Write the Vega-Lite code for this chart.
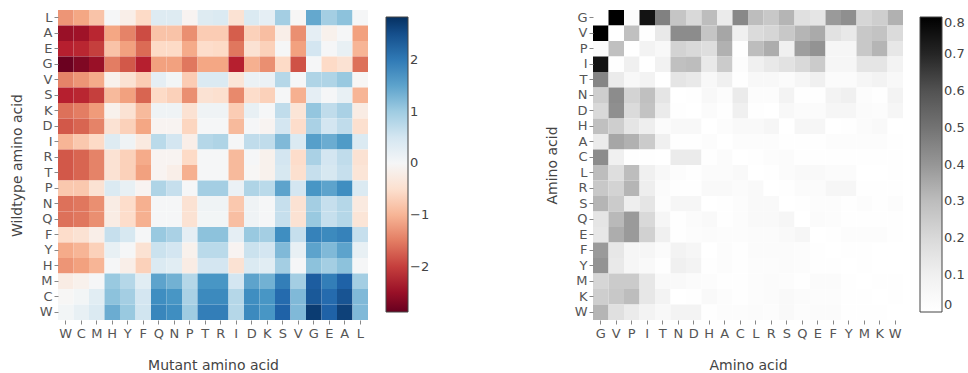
{
  "$schema": "https://vega.github.io/schema/vega-lite/v6.json",
  "padding": {"left": 10, "top": 10, "right": 5, "bottom": 5},
  "bounds": "flush",
  "spacing": 225,
  "config": {
    "view": {"stroke": null},
    "font": "DejaVu Sans",
    "axis": {"domain": false, "grid": false, "labelFont": "DejaVu Sans", "labelFontSize": 13, "labelColor": "#555", "tickColor": "#888", "tickSize": 4, "labelPadding": 2, "titleFont": "DejaVu Sans", "titleFontSize": 14, "titleFontWeight": "normal", "titleColor": "#444"},
    "axisX": {"labelAngle": 0, "labelPadding": 3, "titlePadding": 18},
    "axisY": {"titlePadding": 15},
    "legend": {"labelFont": "DejaVu Sans", "labelFontSize": 13, "labelColor": "#444", "gradientLength": 295, "gradientThickness": 22, "gradientStrokeColor": "#444", "gradientStrokeWidth": 1, "labelOffset": 4, "orient": "none"}
  },
  "datasets": {
    "mut": [
{"r":"L","c":"W","v":-1.3},{"r":"L","c":"C","v":-1.15},{"r":"L","c":"M","v":-0.85},{"r":"L","c":"H","v":0.0},{"r":"L","c":"Y","v":-0.2},{"r":"L","c":"F","v":-0.6},{"r":"L","c":"Q","v":0.35},{"r":"L","c":"N","v":0.35},{"r":"L","c":"P","v":-0.1},{"r":"L","c":"T","v":0.35},{"r":"L","c":"R","v":0.4},{"r":"L","c":"I","v":-0.45},{"r":"L","c":"D","v":0.4},{"r":"L","c":"K","v":0.25},{"r":"L","c":"S","v":0.95},{"r":"L","c":"V","v":-0.05},{"r":"L","c":"G","v":1.45},{"r":"L","c":"E","v":0.95},{"r":"L","c":"A","v":1.15},{"r":"L","c":"L","v":0.0},
{"r":"A","c":"W","v":-2.5},{"r":"A","c":"C","v":-2.45},{"r":"A","c":"M","v":-2.2},{"r":"A","c":"H","v":-1.15},{"r":"A","c":"Y","v":-1.45},{"r":"A","c":"F","v":-1.9},{"r":"A","c":"Q","v":-0.85},{"r":"A","c":"N","v":-0.85},{"r":"A","c":"P","v":-1.35},{"r":"A","c":"T","v":-0.75},{"r":"A","c":"R","v":-0.75},{"r":"A","c":"I","v":-1.75},{"r":"A","c":"D","v":-0.7},{"r":"A","c":"K","v":-0.9},{"r":"A","c":"S","v":-0.2},{"r":"A","c":"V","v":-1.35},{"r":"A","c":"G","v":0.25},{"r":"A","c":"E","v":-0.15},{"r":"A","c":"A","v":0.0},{"r":"A","c":"L","v":-1.2},
{"r":"E","c":"W","v":-2.25},{"r":"E","c":"C","v":-2.2},{"r":"E","c":"M","v":-2.0},{"r":"E","c":"H","v":-0.85},{"r":"E","c":"Y","v":-1.2},{"r":"E","c":"F","v":-1.65},{"r":"E","c":"Q","v":-0.6},{"r":"E","c":"N","v":-0.6},{"r":"E","c":"P","v":-1.1},{"r":"E","c":"T","v":-0.55},{"r":"E","c":"R","v":-0.6},{"r":"E","c":"I","v":-1.55},{"r":"E","c":"D","v":-0.45},{"r":"E","c":"K","v":-0.7},{"r":"E","c":"S","v":0.0},{"r":"E","c":"V","v":-1.2},{"r":"E","c":"G","v":0.5},{"r":"E","c":"E","v":0.0},{"r":"E","c":"A","v":0.2},{"r":"E","c":"L","v":-1.0},
{"r":"G","c":"W","v":-2.85},{"r":"G","c":"C","v":-2.7},{"r":"G","c":"M","v":-2.5},{"r":"G","c":"H","v":-1.5},{"r":"G","c":"Y","v":-1.8},{"r":"G","c":"F","v":-2.25},{"r":"G","c":"Q","v":-1.2},{"r":"G","c":"N","v":-1.2},{"r":"G","c":"P","v":-1.55},{"r":"G","c":"T","v":-1.15},{"r":"G","c":"R","v":-1.15},{"r":"G","c":"I","v":-2.25},{"r":"G","c":"D","v":-1.05},{"r":"G","c":"K","v":-1.35},{"r":"G","c":"S","v":-0.6},{"r":"G","c":"V","v":-1.85},{"r":"G","c":"G","v":0.0},{"r":"G","c":"E","v":-0.6},{"r":"G","c":"A","v":-0.45},{"r":"G","c":"L","v":-1.6},
{"r":"V","c":"W","v":-1.45},{"r":"V","c":"C","v":-1.3},{"r":"V","c":"M","v":-1.1},{"r":"V","c":"H","v":-0.15},{"r":"V","c":"Y","v":-0.45},{"r":"V","c":"F","v":-0.75},{"r":"V","c":"Q","v":0.25},{"r":"V","c":"N","v":0.05},{"r":"V","c":"P","v":-0.75},{"r":"V","c":"T","v":0.4},{"r":"V","c":"R","v":0.4},{"r":"V","c":"I","v":-0.4},{"r":"V","c":"D","v":0.15},{"r":"V","c":"K","v":0.15},{"r":"V","c":"S","v":0.8},{"r":"V","c":"V","v":0.0},{"r":"V","c":"G","v":0.85},{"r":"V","c":"E","v":0.85},{"r":"V","c":"A","v":1.05},{"r":"V","c":"L","v":-0.05},
{"r":"S","c":"W","v":-2.25},{"r":"S","c":"C","v":-2.2},{"r":"S","c":"M","v":-2.0},{"r":"S","c":"H","v":-0.95},{"r":"S","c":"Y","v":-1.2},{"r":"S","c":"F","v":-1.7},{"r":"S","c":"Q","v":-0.6},{"r":"S","c":"N","v":-0.7},{"r":"S","c":"P","v":-1.35},{"r":"S","c":"T","v":-0.45},{"r":"S","c":"R","v":-0.5},{"r":"S","c":"I","v":-1.4},{"r":"S","c":"D","v":-0.55},{"r":"S","c":"K","v":-0.7},{"r":"S","c":"S","v":0.0},{"r":"S","c":"V","v":-1.05},{"r":"S","c":"G","v":0.25},{"r":"S","c":"E","v":0.0},{"r":"S","c":"A","v":0.2},{"r":"S","c":"L","v":-1.0},
{"r":"K","c":"W","v":-1.6},{"r":"K","c":"C","v":-1.5},{"r":"K","c":"M","v":-1.25},{"r":"K","c":"H","v":-0.15},{"r":"K","c":"Y","v":-0.45},{"r":"K","c":"F","v":-0.95},{"r":"K","c":"Q","v":0.1},{"r":"K","c":"N","v":0.1},{"r":"K","c":"P","v":-0.45},{"r":"K","c":"T","v":0.1},{"r":"K","c":"R","v":0.1},{"r":"K","c":"I","v":-0.75},{"r":"K","c":"D","v":0.2},{"r":"K","c":"K","v":0.0},{"r":"K","c":"S","v":0.7},{"r":"K","c":"V","v":-0.4},{"r":"K","c":"G","v":1.1},{"r":"K","c":"E","v":0.7},{"r":"K","c":"A","v":0.9},{"r":"K","c":"L","v":-0.25},
{"r":"D","c":"W","v":-1.8},{"r":"D","c":"C","v":-1.7},{"r":"D","c":"M","v":-1.45},{"r":"D","c":"H","v":-0.45},{"r":"D","c":"Y","v":-0.7},{"r":"D","c":"F","v":-1.15},{"r":"D","c":"Q","v":-0.1},{"r":"D","c":"N","v":-0.1},{"r":"D","c":"P","v":-0.65},{"r":"D","c":"T","v":0.0},{"r":"D","c":"R","v":0.0},{"r":"D","c":"I","v":-0.95},{"r":"D","c":"D","v":0.0},{"r":"D","c":"K","v":-0.1},{"r":"D","c":"S","v":0.5},{"r":"D","c":"V","v":-0.55},{"r":"D","c":"G","v":0.9},{"r":"D","c":"E","v":0.5},{"r":"D","c":"A","v":0.7},{"r":"D","c":"L","v":-0.5},
{"r":"I","c":"W","v":-1.0},{"r":"I","c":"C","v":-0.8},{"r":"I","c":"M","v":-0.6},{"r":"I","c":"H","v":0.35},{"r":"I","c":"Y","v":0.1},{"r":"I","c":"F","v":-0.3},{"r":"I","c":"Q","v":0.75},{"r":"I","c":"N","v":0.5},{"r":"I","c":"P","v":-0.2},{"r":"I","c":"T","v":0.8},{"r":"I","c":"R","v":0.85},{"r":"I","c":"I","v":0.0},{"r":"I","c":"D","v":0.7},{"r":"I","c":"K","v":0.7},{"r":"I","c":"S","v":1.25},{"r":"I","c":"V","v":0.4},{"r":"I","c":"G","v":1.55},{"r":"I","c":"E","v":1.4},{"r":"I","c":"A","v":1.6},{"r":"I","c":"L","v":0.4},
{"r":"R","c":"W","v":-1.8},{"r":"R","c":"C","v":-1.7},{"r":"R","c":"M","v":-1.45},{"r":"R","c":"H","v":-0.45},{"r":"R","c":"Y","v":-0.7},{"r":"R","c":"F","v":-1.1},{"r":"R","c":"Q","v":-0.1},{"r":"R","c":"N","v":-0.1},{"r":"R","c":"P","v":-0.6},{"r":"R","c":"T","v":0.0},{"r":"R","c":"R","v":0.0},{"r":"R","c":"I","v":-0.95},{"r":"R","c":"D","v":0.0},{"r":"R","c":"K","v":-0.15},{"r":"R","c":"S","v":0.5},{"r":"R","c":"V","v":-0.55},{"r":"R","c":"G","v":0.9},{"r":"R","c":"E","v":0.5},{"r":"R","c":"A","v":0.7},{"r":"R","c":"L","v":-0.45},
{"r":"T","c":"W","v":-1.8},{"r":"T","c":"C","v":-1.7},{"r":"T","c":"M","v":-1.45},{"r":"T","c":"H","v":-0.45},{"r":"T","c":"Y","v":-0.7},{"r":"T","c":"F","v":-1.2},{"r":"T","c":"Q","v":-0.1},{"r":"T","c":"N","v":-0.2},{"r":"T","c":"P","v":-1.05},{"r":"T","c":"T","v":0.0},{"r":"T","c":"R","v":0.0},{"r":"T","c":"I","v":-0.95},{"r":"T","c":"D","v":-0.05},{"r":"T","c":"K","v":-0.15},{"r":"T","c":"S","v":0.45},{"r":"T","c":"V","v":-0.5},{"r":"T","c":"G","v":0.65},{"r":"T","c":"E","v":0.45},{"r":"T","c":"A","v":0.65},{"r":"T","c":"L","v":-0.4},
{"r":"P","c":"W","v":-0.8},{"r":"P","c":"C","v":-0.8},{"r":"P","c":"M","v":-0.45},{"r":"P","c":"H","v":0.4},{"r":"P","c":"Y","v":0.2},{"r":"P","c":"F","v":-0.1},{"r":"P","c":"Q","v":0.85},{"r":"P","c":"N","v":0.65},{"r":"P","c":"P","v":0.0},{"r":"P","c":"T","v":0.95},{"r":"P","c":"R","v":0.95},{"r":"P","c":"I","v":0.15},{"r":"P","c":"D","v":0.85},{"r":"P","c":"K","v":0.75},{"r":"P","c":"S","v":1.5},{"r":"P","c":"V","v":0.5},{"r":"P","c":"G","v":1.65},{"r":"P","c":"E","v":1.5},{"r":"P","c":"A","v":1.75},{"r":"P","c":"L","v":0.4},
{"r":"N","c":"W","v":-1.6},{"r":"N","c":"C","v":-1.55},{"r":"N","c":"M","v":-1.35},{"r":"N","c":"H","v":-0.25},{"r":"N","c":"Y","v":-0.55},{"r":"N","c":"F","v":-1.05},{"r":"N","c":"Q","v":0.0},{"r":"N","c":"N","v":0.0},{"r":"N","c":"P","v":-0.45},{"r":"N","c":"T","v":0.1},{"r":"N","c":"R","v":0.1},{"r":"N","c":"I","v":-0.8},{"r":"N","c":"D","v":0.1},{"r":"N","c":"K","v":0.0},{"r":"N","c":"S","v":0.65},{"r":"N","c":"V","v":-0.45},{"r":"N","c":"G","v":0.95},{"r":"N","c":"E","v":0.65},{"r":"N","c":"A","v":0.8},{"r":"N","c":"L","v":-0.3},
{"r":"Q","c":"W","v":-1.6},{"r":"Q","c":"C","v":-1.55},{"r":"Q","c":"M","v":-1.35},{"r":"Q","c":"H","v":-0.25},{"r":"Q","c":"Y","v":-0.55},{"r":"Q","c":"F","v":-1.05},{"r":"Q","c":"Q","v":0.0},{"r":"Q","c":"N","v":0.0},{"r":"Q","c":"P","v":-0.45},{"r":"Q","c":"T","v":0.05},{"r":"Q","c":"R","v":0.05},{"r":"Q","c":"I","v":-0.9},{"r":"Q","c":"D","v":0.1},{"r":"Q","c":"K","v":0.0},{"r":"Q","c":"S","v":0.65},{"r":"Q","c":"V","v":-0.45},{"r":"Q","c":"G","v":1.05},{"r":"Q","c":"E","v":0.65},{"r":"Q","c":"A","v":0.8},{"r":"Q","c":"L","v":-0.4},
{"r":"F","c":"W","v":-0.55},{"r":"F","c":"C","v":-0.45},{"r":"F","c":"M","v":-0.2},{"r":"F","c":"H","v":0.65},{"r":"F","c":"Y","v":0.45},{"r":"F","c":"F","v":0.0},{"r":"F","c":"Q","v":1.05},{"r":"F","c":"N","v":0.9},{"r":"F","c":"P","v":0.25},{"r":"F","c":"T","v":1.15},{"r":"F","c":"R","v":1.15},{"r":"F","c":"I","v":0.25},{"r":"F","c":"D","v":1.05},{"r":"F","c":"K","v":0.95},{"r":"F","c":"S","v":1.75},{"r":"F","c":"V","v":0.65},{"r":"F","c":"G","v":1.9},{"r":"F","c":"E","v":1.8},{"r":"F","c":"A","v":1.9},{"r":"F","c":"L","v":0.65},
{"r":"Y","c":"W","v":-1.1},{"r":"Y","c":"C","v":-1.0},{"r":"Y","c":"M","v":-0.7},{"r":"Y","c":"H","v":0.2},{"r":"Y","c":"Y","v":0.0},{"r":"Y","c":"F","v":-0.45},{"r":"Y","c":"Q","v":0.6},{"r":"Y","c":"N","v":0.5},{"r":"Y","c":"P","v":-0.15},{"r":"Y","c":"T","v":0.75},{"r":"Y","c":"R","v":0.75},{"r":"Y","c":"I","v":-0.1},{"r":"Y","c":"D","v":0.6},{"r":"Y","c":"K","v":0.5},{"r":"Y","c":"S","v":1.25},{"r":"Y","c":"V","v":0.2},{"r":"Y","c":"G","v":1.5},{"r":"Y","c":"E","v":1.25},{"r":"Y","c":"A","v":1.5},{"r":"Y","c":"L","v":0.2},
{"r":"H","c":"W","v":-1.3},{"r":"H","c":"C","v":-1.2},{"r":"H","c":"M","v":-1.0},{"r":"H","c":"H","v":0.0},{"r":"H","c":"Y","v":-0.2},{"r":"H","c":"F","v":-0.7},{"r":"H","c":"Q","v":0.4},{"r":"H","c":"N","v":0.3},{"r":"H","c":"P","v":-0.25},{"r":"H","c":"T","v":0.5},{"r":"H","c":"R","v":0.5},{"r":"H","c":"I","v":-0.45},{"r":"H","c":"D","v":0.4},{"r":"H","c":"K","v":0.3},{"r":"H","c":"S","v":0.95},{"r":"H","c":"V","v":0.0},{"r":"H","c":"G","v":1.15},{"r":"H","c":"E","v":0.95},{"r":"H","c":"A","v":1.15},{"r":"H","c":"L","v":0.0},
{"r":"M","c":"W","v":-0.25},{"r":"M","c":"C","v":-0.15},{"r":"M","c":"M","v":0.0},{"r":"M","c":"H","v":1.05},{"r":"M","c":"Y","v":0.8},{"r":"M","c":"F","v":0.3},{"r":"M","c":"Q","v":1.5},{"r":"M","c":"N","v":1.35},{"r":"M","c":"P","v":0.8},{"r":"M","c":"T","v":1.65},{"r":"M","c":"R","v":1.65},{"r":"M","c":"I","v":0.5},{"r":"M","c":"D","v":1.5},{"r":"M","c":"K","v":1.35},{"r":"M","c":"S","v":1.95},{"r":"M","c":"V","v":0.95},{"r":"M","c":"G","v":2.35},{"r":"M","c":"E","v":1.95},{"r":"M","c":"A","v":2.3},{"r":"M","c":"L","v":0.95},
{"r":"C","c":"W","v":-0.05},{"r":"C","c":"C","v":0.05},{"r":"C","c":"M","v":0.3},{"r":"C","c":"H","v":1.15},{"r":"C","c":"Y","v":0.95},{"r":"C","c":"F","v":0.5},{"r":"C","c":"Q","v":1.75},{"r":"C","c":"N","v":1.65},{"r":"C","c":"P","v":0.9},{"r":"C","c":"T","v":1.8},{"r":"C","c":"R","v":1.8},{"r":"C","c":"I","v":0.8},{"r":"C","c":"D","v":1.75},{"r":"C","c":"K","v":1.65},{"r":"C","c":"S","v":2.2},{"r":"C","c":"V","v":1.25},{"r":"C","c":"G","v":2.4},{"r":"C","c":"E","v":2.2},{"r":"C","c":"A","v":2.45},{"r":"C","c":"L","v":1.25},
{"r":"W","c":"W","v":0.05},{"r":"W","c":"C","v":0.2},{"r":"W","c":"M","v":0.4},{"r":"W","c":"H","v":1.4},{"r":"W","c":"Y","v":1.05},{"r":"W","c":"F","v":0.55},{"r":"W","c":"Q","v":1.85},{"r":"W","c":"N","v":1.75},{"r":"W","c":"P","v":1.0},{"r":"W","c":"T","v":1.95},{"r":"W","c":"R","v":1.95},{"r":"W","c":"I","v":0.8},{"r":"W","c":"D","v":1.8},{"r":"W","c":"K","v":1.65},{"r":"W","c":"S","v":2.3},{"r":"W","c":"V","v":1.25},{"r":"W","c":"G","v":2.7},{"r":"W","c":"E","v":2.3},{"r":"W","c":"A","v":2.65},{"r":"W","c":"L","v":1.25}
    ],
    "sub": [
{"r":"G","c":"G","v":0},{"r":"G","c":"V","v":0.8},{"r":"G","c":"P","v":0.03},{"r":"G","c":"I","v":0.75},{"r":"G","c":"T","v":0.46},{"r":"G","c":"N","v":0.27},{"r":"G","c":"D","v":0.2},{"r":"G","c":"H","v":0.3},{"r":"G","c":"A","v":0.12},{"r":"G","c":"C","v":0.44},{"r":"G","c":"L","v":0.3},{"r":"G","c":"R","v":0.26},{"r":"G","c":"S","v":0.32},{"r":"G","c":"Q","v":0.17},{"r":"G","c":"E","v":0.15},{"r":"G","c":"F","v":0.39},{"r":"G","c":"Y","v":0.42},{"r":"G","c":"M","v":0.21},{"r":"G","c":"K","v":0.24},{"r":"G","c":"W","v":0.33},
{"r":"V","c":"G","v":0.8},{"r":"V","c":"V","v":0},{"r":"V","c":"P","v":0.29},{"r":"V","c":"I","v":0.01},{"r":"V","c":"T","v":0.13},{"r":"V","c":"N","v":0.43},{"r":"V","c":"D","v":0.43},{"r":"V","c":"H","v":0.27},{"r":"V","c":"A","v":0.36},{"r":"V","c":"C","v":0.1},{"r":"V","c":"L","v":0.19},{"r":"V","c":"R","v":0.21},{"r":"V","c":"S","v":0.26},{"r":"V","c":"Q","v":0.32},{"r":"V","c":"E","v":0.35},{"r":"V","c":"F","v":0.16},{"r":"V","c":"Y","v":0.13},{"r":"V","c":"M","v":0.26},{"r":"V","c":"K","v":0.28},{"r":"V","c":"W","v":0.19},
{"r":"P","c":"G","v":0.03},{"r":"P","c":"V","v":0.29},{"r":"P","c":"P","v":0},{"r":"P","c":"I","v":0.08},{"r":"P","c":"T","v":0.05},{"r":"P","c":"N","v":0.22},{"r":"P","c":"D","v":0.2},{"r":"P","c":"H","v":0.18},{"r":"P","c":"A","v":0.33},{"r":"P","c":"C","v":0.01},{"r":"P","c":"L","v":0.3},{"r":"P","c":"R","v":0.34},{"r":"P","c":"S","v":0.1},{"r":"P","c":"Q","v":0.38},{"r":"P","c":"E","v":0.41},{"r":"P","c":"F","v":0.06},{"r":"P","c":"Y","v":0.06},{"r":"P","c":"M","v":0.26},{"r":"P","c":"K","v":0.32},{"r":"P","c":"W","v":0.14},
{"r":"I","c":"G","v":0.75},{"r":"I","c":"V","v":0.01},{"r":"I","c":"P","v":0.1},{"r":"I","c":"I","v":0},{"r":"I","c":"T","v":0.09},{"r":"I","c":"N","v":0.29},{"r":"I","c":"D","v":0.3},{"r":"I","c":"H","v":0.13},{"r":"I","c":"A","v":0.25},{"r":"I","c":"C","v":0.02},{"r":"I","c":"L","v":0.1},{"r":"I","c":"R","v":0.13},{"r":"I","c":"S","v":0.16},{"r":"I","c":"Q","v":0.2},{"r":"I","c":"E","v":0.25},{"r":"I","c":"F","v":0.06},{"r":"I","c":"Y","v":0.06},{"r":"I","c":"M","v":0.15},{"r":"I","c":"K","v":0.15},{"r":"I","c":"W","v":0.08},
{"r":"T","c":"G","v":0.45},{"r":"T","c":"V","v":0.12},{"r":"T","c":"P","v":0.05},{"r":"T","c":"I","v":0.08},{"r":"T","c":"T","v":0},{"r":"T","c":"N","v":0.15},{"r":"T","c":"D","v":0.13},{"r":"T","c":"H","v":0.05},{"r":"T","c":"A","v":0.1},{"r":"T","c":"C","v":0.01},{"r":"T","c":"L","v":0.05},{"r":"T","c":"R","v":0.05},{"r":"T","c":"S","v":0.03},{"r":"T","c":"Q","v":0.06},{"r":"T","c":"E","v":0.1},{"r":"T","c":"F","v":0.03},{"r":"T","c":"Y","v":0.03},{"r":"T","c":"M","v":0.06},{"r":"T","c":"K","v":0.08},{"r":"T","c":"W","v":0.05},
{"r":"N","c":"G","v":0.24},{"r":"N","c":"V","v":0.43},{"r":"N","c":"P","v":0.22},{"r":"N","c":"I","v":0.29},{"r":"N","c":"T","v":0.15},{"r":"N","c":"N","v":0},{"r":"N","c":"D","v":0.01},{"r":"N","c":"H","v":0.05},{"r":"N","c":"A","v":0.02},{"r":"N","c":"C","v":0.12},{"r":"N","c":"L","v":0.02},{"r":"N","c":"R","v":0.02},{"r":"N","c":"S","v":0.08},{"r":"N","c":"Q","v":0.01},{"r":"N","c":"E","v":0.01},{"r":"N","c":"F","v":0.08},{"r":"N","c":"Y","v":0.1},{"r":"N","c":"M","v":0.02},{"r":"N","c":"K","v":0.01},{"r":"N","c":"W","v":0.08},
{"r":"D","c":"G","v":0.2},{"r":"D","c":"V","v":0.42},{"r":"D","c":"P","v":0.19},{"r":"D","c":"I","v":0.28},{"r":"D","c":"T","v":0.12},{"r":"D","c":"N","v":0.01},{"r":"D","c":"D","v":0},{"r":"D","c":"H","v":0.03},{"r":"D","c":"A","v":0.01},{"r":"D","c":"C","v":0.1},{"r":"D","c":"L","v":0.01},{"r":"D","c":"R","v":0.0},{"r":"D","c":"S","v":0.05},{"r":"D","c":"Q","v":0.03},{"r":"D","c":"E","v":0.03},{"r":"D","c":"F","v":0.06},{"r":"D","c":"Y","v":0.06},{"r":"D","c":"M","v":0.03},{"r":"D","c":"K","v":0.02},{"r":"D","c":"W","v":0.06},
{"r":"H","c":"G","v":0.29},{"r":"H","c":"V","v":0.24},{"r":"H","c":"P","v":0.15},{"r":"H","c":"I","v":0.11},{"r":"H","c":"T","v":0.03},{"r":"H","c":"N","v":0.05},{"r":"H","c":"D","v":0.05},{"r":"H","c":"H","v":0},{"r":"H","c":"A","v":0.02},{"r":"H","c":"C","v":0.04},{"r":"H","c":"L","v":0.04},{"r":"H","c":"R","v":0.06},{"r":"H","c":"S","v":0.0},{"r":"H","c":"Q","v":0.06},{"r":"H","c":"E","v":0.06},{"r":"H","c":"F","v":0.0},{"r":"H","c":"Y","v":0.01},{"r":"H","c":"M","v":0.03},{"r":"H","c":"K","v":0.04},{"r":"H","c":"W","v":0.0},
{"r":"A","c":"G","v":0.12},{"r":"A","c":"V","v":0.36},{"r":"A","c":"P","v":0.33},{"r":"A","c":"I","v":0.25},{"r":"A","c":"T","v":0.1},{"r":"A","c":"N","v":0.01},{"r":"A","c":"D","v":0.01},{"r":"A","c":"H","v":0.02},{"r":"A","c":"A","v":0},{"r":"A","c":"C","v":0.02},{"r":"A","c":"L","v":0.02},{"r":"A","c":"R","v":0.02},{"r":"A","c":"S","v":0.01},{"r":"A","c":"Q","v":0.01},{"r":"A","c":"E","v":0.01},{"r":"A","c":"F","v":0.02},{"r":"A","c":"Y","v":0.02},{"r":"A","c":"M","v":0.02},{"r":"A","c":"K","v":0.02},{"r":"A","c":"W","v":0.01},
{"r":"C","c":"G","v":0.43},{"r":"C","c":"V","v":0.1},{"r":"C","c":"P","v":0.01},{"r":"C","c":"I","v":0.01},{"r":"C","c":"T","v":0.0},{"r":"C","c":"N","v":0.12},{"r":"C","c":"D","v":0.12},{"r":"C","c":"H","v":0.01},{"r":"C","c":"A","v":0.03},{"r":"C","c":"C","v":0},{"r":"C","c":"L","v":0.01},{"r":"C","c":"R","v":0.02},{"r":"C","c":"S","v":0.03},{"r":"C","c":"Q","v":0.01},{"r":"C","c":"E","v":0.01},{"r":"C","c":"F","v":0.01},{"r":"C","c":"Y","v":0.01},{"r":"C","c":"M","v":0.01},{"r":"C","c":"K","v":0.01},{"r":"C","c":"W","v":0.01},
{"r":"L","c":"G","v":0.3},{"r":"L","c":"V","v":0.18},{"r":"L","c":"P","v":0.3},{"r":"L","c":"I","v":0.1},{"r":"L","c":"T","v":0.05},{"r":"L","c":"N","v":0.02},{"r":"L","c":"D","v":0.01},{"r":"L","c":"H","v":0.03},{"r":"L","c":"A","v":0.03},{"r":"L","c":"C","v":0.04},{"r":"L","c":"L","v":0},{"r":"L","c":"R","v":0.01},{"r":"L","c":"S","v":0.03},{"r":"L","c":"Q","v":0.04},{"r":"L","c":"E","v":0.04},{"r":"L","c":"F","v":0.03},{"r":"L","c":"Y","v":0.03},{"r":"L","c":"M","v":0.0},{"r":"L","c":"K","v":0.0},{"r":"L","c":"W","v":0.01},
{"r":"R","c":"G","v":0.26},{"r":"R","c":"V","v":0.22},{"r":"R","c":"P","v":0.32},{"r":"R","c":"I","v":0.11},{"r":"R","c":"T","v":0.03},{"r":"R","c":"N","v":0.01},{"r":"R","c":"D","v":0.01},{"r":"R","c":"H","v":0.04},{"r":"R","c":"A","v":0.04},{"r":"R","c":"C","v":0.03},{"r":"R","c":"L","v":0.04},{"r":"R","c":"R","v":0},{"r":"R","c":"S","v":0.01},{"r":"R","c":"Q","v":0.03},{"r":"R","c":"E","v":0.03},{"r":"R","c":"F","v":0.06},{"r":"R","c":"Y","v":0.06},{"r":"R","c":"M","v":0.01},{"r":"R","c":"K","v":0.01},{"r":"R","c":"W","v":0.01},
{"r":"S","c":"G","v":0.32},{"r":"S","c":"V","v":0.25},{"r":"S","c":"P","v":0.11},{"r":"S","c":"I","v":0.15},{"r":"S","c":"T","v":0.02},{"r":"S","c":"N","v":0.06},{"r":"S","c":"D","v":0.06},{"r":"S","c":"H","v":0.0},{"r":"S","c":"A","v":0.01},{"r":"S","c":"C","v":0.02},{"r":"S","c":"L","v":0.04},{"r":"S","c":"R","v":0.04},{"r":"S","c":"S","v":0},{"r":"S","c":"Q","v":0.01},{"r":"S","c":"E","v":0.02},{"r":"S","c":"F","v":0.02},{"r":"S","c":"Y","v":0.01},{"r":"S","c":"M","v":0.02},{"r":"S","c":"K","v":0.01},{"r":"S","c":"W","v":0.02},
{"r":"Q","c":"G","v":0.15},{"r":"Q","c":"V","v":0.31},{"r":"Q","c":"P","v":0.39},{"r":"Q","c":"I","v":0.2},{"r":"Q","c":"T","v":0.06},{"r":"Q","c":"N","v":0.01},{"r":"Q","c":"D","v":0.03},{"r":"Q","c":"H","v":0.04},{"r":"Q","c":"A","v":0.01},{"r":"Q","c":"C","v":0.02},{"r":"Q","c":"L","v":0.04},{"r":"Q","c":"R","v":0.04},{"r":"Q","c":"S","v":0.06},{"r":"Q","c":"Q","v":0},{"r":"Q","c":"E","v":0.03},{"r":"Q","c":"F","v":0.02},{"r":"Q","c":"Y","v":0.01},{"r":"Q","c":"M","v":0.01},{"r":"Q","c":"K","v":0.01},{"r":"Q","c":"W","v":0.01},
{"r":"E","c":"G","v":0.14},{"r":"E","c":"V","v":0.34},{"r":"E","c":"P","v":0.39},{"r":"E","c":"I","v":0.23},{"r":"E","c":"T","v":0.1},{"r":"E","c":"N","v":0.01},{"r":"E","c":"D","v":0.02},{"r":"E","c":"H","v":0.03},{"r":"E","c":"A","v":0.02},{"r":"E","c":"C","v":0.02},{"r":"E","c":"L","v":0.03},{"r":"E","c":"R","v":0.03},{"r":"E","c":"S","v":0.04},{"r":"E","c":"Q","v":0.06},{"r":"E","c":"E","v":0},{"r":"E","c":"F","v":0.01},{"r":"E","c":"Y","v":0.02},{"r":"E","c":"M","v":0.02},{"r":"E","c":"K","v":0.02},{"r":"E","c":"W","v":0.01},
{"r":"F","c":"G","v":0.39},{"r":"F","c":"V","v":0.14},{"r":"F","c":"P","v":0.06},{"r":"F","c":"I","v":0.06},{"r":"F","c":"T","v":0.03},{"r":"F","c":"N","v":0.08},{"r":"F","c":"D","v":0.06},{"r":"F","c":"H","v":0.0},{"r":"F","c":"A","v":0.02},{"r":"F","c":"C","v":0.01},{"r":"F","c":"L","v":0.03},{"r":"F","c":"R","v":0.03},{"r":"F","c":"S","v":0.03},{"r":"F","c":"Q","v":0.02},{"r":"F","c":"E","v":0.01},{"r":"F","c":"F","v":0},{"r":"F","c":"Y","v":0.01},{"r":"F","c":"M","v":0.01},{"r":"F","c":"K","v":0.0},{"r":"F","c":"W","v":0.0},
{"r":"Y","c":"G","v":0.41},{"r":"Y","c":"V","v":0.13},{"r":"Y","c":"P","v":0.06},{"r":"Y","c":"I","v":0.04},{"r":"Y","c":"T","v":0.01},{"r":"Y","c":"N","v":0.1},{"r":"Y","c":"D","v":0.08},{"r":"Y","c":"H","v":0.01},{"r":"Y","c":"A","v":0.02},{"r":"Y","c":"C","v":0.01},{"r":"Y","c":"L","v":0.02},{"r":"Y","c":"R","v":0.02},{"r":"Y","c":"S","v":0.03},{"r":"Y","c":"Q","v":0.02},{"r":"Y","c":"E","v":0.01},{"r":"Y","c":"F","v":0.01},{"r":"Y","c":"Y","v":0},{"r":"Y","c":"M","v":0.01},{"r":"Y","c":"K","v":0.0},{"r":"Y","c":"W","v":0.0},
{"r":"M","c":"G","v":0.21},{"r":"M","c":"V","v":0.25},{"r":"M","c":"P","v":0.25},{"r":"M","c":"I","v":0.14},{"r":"M","c":"T","v":0.04},{"r":"M","c":"N","v":0.04},{"r":"M","c":"D","v":0.03},{"r":"M","c":"H","v":0.02},{"r":"M","c":"A","v":0.01},{"r":"M","c":"C","v":0.01},{"r":"M","c":"L","v":0.02},{"r":"M","c":"R","v":0.03},{"r":"M","c":"S","v":0.02},{"r":"M","c":"Q","v":0.01},{"r":"M","c":"E","v":0.03},{"r":"M","c":"F","v":0.03},{"r":"M","c":"Y","v":0.01},{"r":"M","c":"M","v":0},{"r":"M","c":"K","v":0.01},{"r":"M","c":"W","v":0.01},
{"r":"K","c":"G","v":0.24},{"r":"K","c":"V","v":0.26},{"r":"K","c":"P","v":0.3},{"r":"K","c":"I","v":0.14},{"r":"K","c":"T","v":0.08},{"r":"K","c":"N","v":0.0},{"r":"K","c":"D","v":0.01},{"r":"K","c":"H","v":0.04},{"r":"K","c":"A","v":0.02},{"r":"K","c":"C","v":0.01},{"r":"K","c":"L","v":0.02},{"r":"K","c":"R","v":0.03},{"r":"K","c":"S","v":0.04},{"r":"K","c":"Q","v":0.03},{"r":"K","c":"E","v":0.02},{"r":"K","c":"F","v":0.02},{"r":"K","c":"Y","v":0.01},{"r":"K","c":"M","v":0.01},{"r":"K","c":"K","v":0},{"r":"K","c":"W","v":0.01},
{"r":"W","c":"G","v":0.32},{"r":"W","c":"V","v":0.17},{"r":"W","c":"P","v":0.12},{"r":"W","c":"I","v":0.08},{"r":"W","c":"T","v":0.05},{"r":"W","c":"N","v":0.08},{"r":"W","c":"D","v":0.08},{"r":"W","c":"H","v":0.01},{"r":"W","c":"A","v":0.02},{"r":"W","c":"C","v":0.02},{"r":"W","c":"L","v":0.03},{"r":"W","c":"R","v":0.02},{"r":"W","c":"S","v":0.04},{"r":"W","c":"Q","v":0.02},{"r":"W","c":"E","v":0.03},{"r":"W","c":"F","v":0.03},{"r":"W","c":"Y","v":0.01},{"r":"W","c":"M","v":0.01},{"r":"W","c":"K","v":0.01},{"r":"W","c":"W","v":0}
    ]
  },
  "hconcat": [
    {
      "width": 310, "height": 310,
      "data": {"name": "mut"},
      "mark": {"type": "rect"},
      "encoding": {
        "x": {"field": "c", "type": "nominal", "title": "Mutant amino acid", "scale": {"domain": ["W","C","M","H","Y","F","Q","N","P","T","R","I","D","K","S","V","G","E","A","L"], "paddingInner": 0, "paddingOuter": 0}},
        "y": {"field": "r", "type": "nominal", "title": "Wildtype amino acid", "scale": {"domain": ["L","A","E","G","V","S","K","D","I","R","T","P","N","Q","F","Y","H","M","C","W"], "paddingInner": 0, "paddingOuter": 0}},
        "color": {"field": "v", "type": "quantitative", "scale": {"domain": [-2.88, 2.83], "range": ["#67001f","#b2182b","#d6604d","#f4a582","#fddbc7","#f7f7f7","#d1e5f0","#92c5de","#4393c3","#2166ac","#053061"], "interpolate": "rgb"}, "legend": {"title": null, "legendX": 328, "legendY": 7, "values": [-2, -1, 0, 1, 2], "type": "gradient"}}
      }
    },
    {
      "width": 310, "height": 310,
      "data": {"name": "sub"},
      "mark": {"type": "rect"},
      "encoding": {
        "x": {"field": "c", "type": "nominal", "title": "Amino acid", "scale": {"domain": ["G","V","P","I","T","N","D","H","A","C","L","R","S","Q","E","F","Y","M","K","W"], "paddingInner": 0, "paddingOuter": 0}},
        "y": {"field": "r", "type": "nominal", "title": "Amino acid", "scale": {"domain": ["G","V","P","I","T","N","D","H","A","C","L","R","S","Q","E","F","Y","M","K","W"], "paddingInner": 0, "paddingOuter": 0}},
        "color": {"field": "v", "type": "quantitative", "scale": {"domain": [0, 0.8], "range": ["#ffffff","#f0f0f0","#d9d9d9","#bdbdbd","#969696","#737373","#525252","#252525","#000000"], "interpolate": "rgb"}, "legend": {"title": null, "legendX": 327, "legendY": 7, "values": [0, 0.1, 0.2, 0.3, 0.4, 0.5, 0.6, 0.7, 0.8], "format": ".1~f", "type": "gradient"}}
      }
    }
  ],
  "resolve": {"scale": {"color": "independent"}}
}
